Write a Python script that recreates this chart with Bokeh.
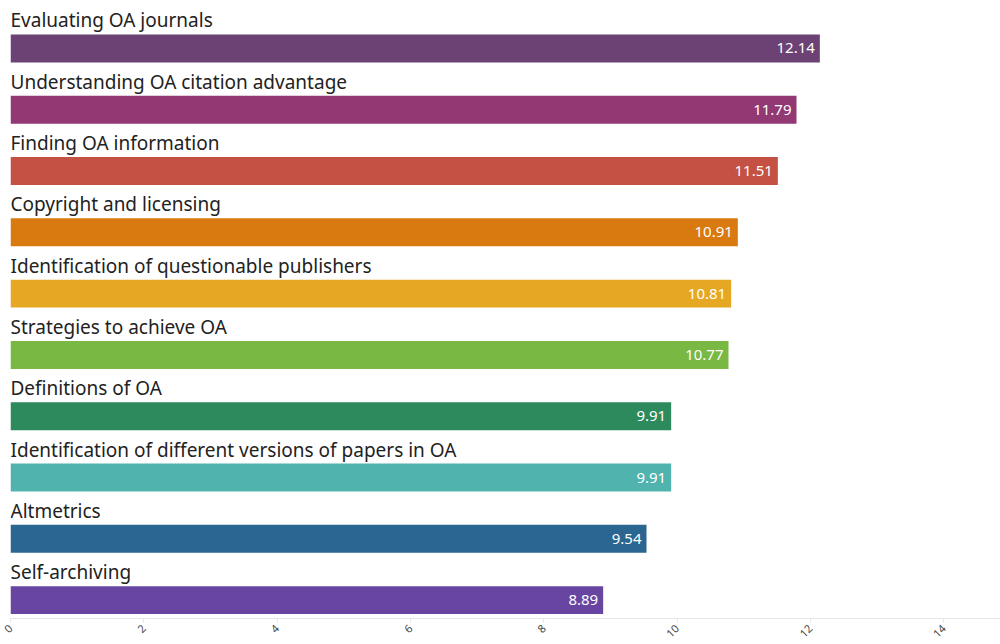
from math import pi
from bokeh.plotting import figure
from bokeh.models import ColumnDataSource, Range1d, FixedTicker
from bokeh.core.properties import value
from bokeh.embed import file_html
from bokeh.resources import INLINE

categories = [
    "Evaluating OA journals",
    "Understanding OA citation advantage",
    "Finding OA information",
    "Copyright and licensing",
    "Identification of questionable publishers",
    "Strategies to achieve OA",
    "Definitions of OA",
    "Identification of different versions of papers in OA",
    "Altmetrics",
    "Self-archiving",
]
scores = [12.14, 11.79, 11.51, 10.91, 10.81, 10.77, 9.91, 9.91, 9.54, 8.89]
colors = ["#6b4273", "#923873", "#c45143", "#d97a11", "#e6a822",
          "#78b843", "#2d8a5d", "#50b3ae", "#2a668f", "#6845a0"]
tick_values = [0, 2, 4, 6, 8, 10, 12, 14]

rows = list(range(len(categories)))
src = ColumnDataSource(dict(
    cat=categories,
    val=scores,
    lab=[f"{v:.2f}" for v in scores],
    color=colors,
    y=rows,
    ylab=[r - 0.457 for r in rows],
))

p = figure(width=1000, height=644, output_backend="svg", toolbar_location=None,
           x_range=Range1d(0, 14.85), y_range=Range1d(9.30, -0.782),
           min_border_left=10, min_border_right=0, min_border_top=0, min_border_bottom=0)
p.outline_line_color = None
p.background_fill_color = "white"
p.border_fill_color = "white"
p.xgrid.visible = False
p.ygrid.visible = False
p.yaxis.visible = False

p.hbar(y="y", left=0, right="val", height=0.456, color="color", line_color=None, source=src)

p.text(x=0, y="ylab", text="cat", source=src, text_font=value("Noto Sans"),
       text_font_size="19px", text_color="#222222", text_align="left",
       text_baseline="alphabetic")

p.text(x="val", y="y", text="lab", source=src, x_offset=-5, text_font=value("Noto Sans"),
       text_font_size="15px", text_color="white", text_align="right",
       text_baseline="middle")

ax = p.xaxis[0]
ax.ticker = FixedTicker(ticks=tick_values)
ax.axis_line_color = "#e6e6e6"
ax.major_tick_line_color = "#e6e6e6"
ax.major_tick_in = 0
ax.major_tick_out = 4
ax.minor_tick_line_color = None
ax.major_label_orientation = pi / 4
ax.major_label_text_font = "Noto Sans"
ax.major_label_text_font_size = "11px"
ax.major_label_text_color = "#444444"
ax.major_label_standoff = 4

open("out.html", "w").write(file_html(p, INLINE))
